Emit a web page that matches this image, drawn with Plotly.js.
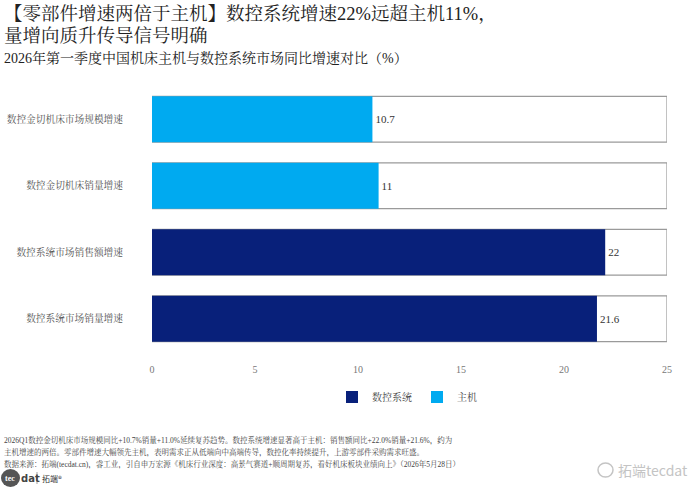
<!DOCTYPE html>
<html><head><meta charset="utf-8">
<script src="https://cdn.plot.ly/plotly-3.0.1.min.js"></script>
<style>html,body{margin:0;padding:0;background:#fff}#chart{width:700px;height:490px}</style>
</head><body><div id="chart"></div>
<script>
const categories = ['数控金切机床市场规模增速','数控金切机床销量增速','数控系统市场销售额增速','数控系统市场销量增速'];
const hostCats = ['数控金切机床市场规模增速','数控金切机床销量增速'];
const hostValues = [10.7, 11];
const hostLabels = ['10.7','11'];
const cncCats = ['数控系统市场销售额增速','数控系统市场销量增速'];
const cncValues = [22, 21.6];
const cncLabels = ['22','21.6'];
const axisMax = 25;
const xTicks = [0,5,10,15,20,25];

const FONT = '"Liberation Serif", "Noto Serif CJK SC", "Noto Sans CJK SC", serif';
const L = 152, R = 33, T = 86, B = 138, W = 700, H = 490;
const pw = W - L - R, ph = H - T - B;
const px = x => (x - L) / pw;
const py = y => (H - B - y) / ph;

const traces = [
  {type:'bar', orientation:'h', y: categories, x: categories.map(()=>axisMax),
   marker:{color:'#ffffff', line:{color:'#9a9a9a', width:1.2}}, width:0.69,
   showlegend:false, hoverinfo:'skip'},
  {type:'bar', orientation:'h', name:'数控系统', y: cncCats, x: cncValues,
   text: cncLabels, textposition:'outside', cliponaxis:false,
   textfont:{family:FONT, size:11, color:'#333'},
   marker:{color:'#08207a'}, width:0.69},
  {type:'bar', orientation:'h', name:'主机', y: hostCats, x: hostValues,
   text: hostLabels, textposition:'outside', cliponaxis:false,
   textfont:{family:FONT, size:11, color:'#333'},
   marker:{color:'#00aaf0'}, width:0.69}
];

const ann = (x, y, text, size, color, extra) => Object.assign({
  xref:'paper', yref:'paper', x: px(x), y: py(y), text, showarrow:false,
  xanchor:'left', yanchor:'middle', font:{family:FONT, size, color}}, extra||{});

const layout = {
  width:W, height:H, margin:{l:L, r:R, t:T, b:B},
  paper_bgcolor:'#fff', plot_bgcolor:'#fff',
  barmode:'overlay', bargap:0.3,
  font:{family:FONT, color:'#555'},
  xaxis:{range:[0,axisMax], tickvals:xTicks, showgrid:false, zeroline:false,
    showline:false, ticks:'outside', ticklen:8, tickcolor:'rgba(0,0,0,0)',
    tickfont:{family:FONT, size:10, color:'#777'}, fixedrange:true},
  yaxis:{categoryorder:'array', categoryarray:categories, autorange:'reversed',
    showgrid:false, zeroline:false, showline:false, ticks:'',
    ticklabelstandoff:28, tickfont:{family:FONT, size:9.7, color:'#555'}},
  legend:{orientation:'h', x:px(407), y:py(397), xanchor:'center', yanchor:'middle',
    font:{family:FONT, size:10, color:'#444'}, traceorder:'normal', itemwidth:30},
  annotations:[
    ann(2, 13, '【零部件增速两倍于主机】数控系统增速22%远超主机11%，', 18.5, '#222'),
    ann(2, 36, '量增向质升传导信号明确', 18.5, '#222'),
    ann(2, 58, '2026年第一季度中国机床主机与数控系统市场同比增速对比（%）', 14, '#222'),
    ann(2, 440, '2026Q1数控金切机床市场规模同比+10.7%销量+11.0%延续复苏趋势。数控系统增速显著高于主机：销售额同比+22.0%销量+21.6%，约为', 7.5, '#444'),
    ann(2, 452, '主机增速的两倍。零部件增速大幅领先主机，表明需求正从低端向中高端传导，数控化率持续提升，上游零部件采购需求旺盛。', 7.5, '#444'),
    ann(2, 464, '数据来源：拓端(tecdat.cn)，睿工业，引自申万宏源《机床行业深度：高景气赛道+顺周期复苏，看好机床板块业绩向上》（2026年5月28日）', 7.5, '#444'),
    ann(3, 478, '<b>tec</b>', 8, '#fff'),
    ann(19, 478, '<b>dat</b>', 10, '#444', {font:{family:'"DejaVu Sans", sans-serif', size:10, color:'#444'}}),
    ann(40, 478, '拓端®', 8, '#333', {font:{family:'"Noto Sans CJK SC", sans-serif', size:8, color:'#333'}}),
    ann(616, 470, '拓端tecdat', 14, '#c4c4c4', {font:{family:'"Noto Sans CJK SC", sans-serif', size:14, color:'#c4c4c4'}})
  ],
  shapes:[
    {type:'circle', xref:'paper', yref:'paper', x0:px(1), x1:px(20), y0:py(487), y1:py(469),
     fillcolor:'#555', line:{width:0}},
    {type:'line', xref:'paper', yref:'paper', x0:px(37), x1:px(37), y0:py(484), y1:py(472),
     line:{color:'#888', width:0.8}},
    {type:'circle', xref:'paper', yref:'paper', x0:px(598), x1:px(613), y0:py(477), y1:py(463),
     fillcolor:'rgba(0,0,0,0)', line:{color:'#c4c4c4', width:1.5}}
  ]
};

Plotly.newPlot('chart', traces, layout, {displayModeBar:false, staticPlot:true});
</script></body></html>
